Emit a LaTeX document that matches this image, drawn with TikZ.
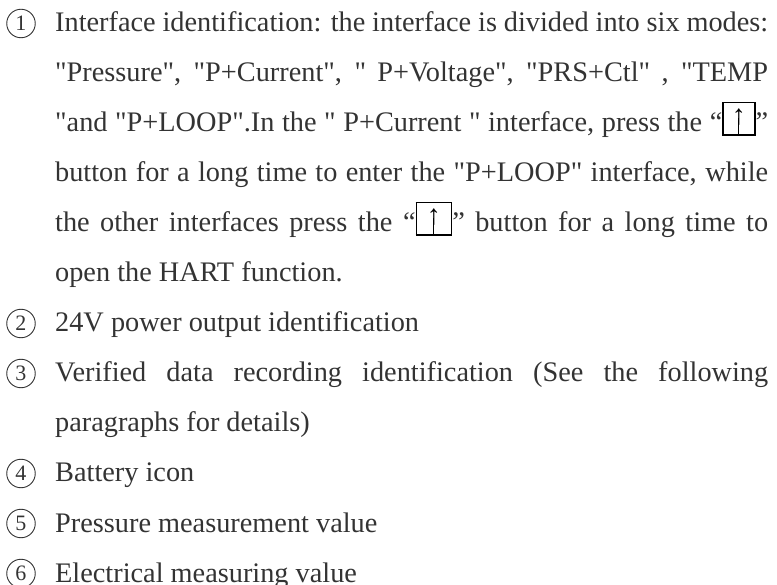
\documentclass[tikz,border=0pt]{standalone}
\usepackage{fontspec}
\setmainfont{Liberation Serif}[Ligatures=TeXOff]
\usetikzlibrary{positioning}
\definecolor{textgray}{HTML}{333333}
% boxed up key, #1 = inner width
\newcommand{\upkey}[1]{{\color{black}\setlength{\fboxsep}{0pt}\setlength{\fboxrule}{1.4pt}%
  \fbox{\makebox[#1]{\rule[-2.5pt]{0pt}{31pt}%
    \makebox[0pt]{\raisebox{7pt}{\fontsize{28}{28}\selectfont ↑}}%
    \makebox[0pt]{\rule[-2.5pt]{1pt}{16pt}}}}}}
\tolerance=10000
\hyphenpenalty=10000

\begin{document}
\begin{tikzpicture}[x=1pt, y=-1pt, every node/.style={text=textgray},
	item/.style={anchor=base west, inner sep=0pt, text width=713pt, align=justify, font=\fontsize{28.3}{50}\selectfont},
	numcirc/.style={draw=textgray, circle, line width=0.9pt, minimum size=28.5pt, inner sep=0pt, font=\fontsize{22}{22}\selectfont}]
	\useasboundingbox (0,0) rectangle (777,585);
	
	\node[item](I1) at (55,32){Interface identification: the interface is divided into six modes:\linebreak
		"Pressure", "P+Current", " P+Voltage", "PRS+Ctl" , "TEMP\linebreak
		"and "P+LOOP".In the " P+Current " interface, press the “\upkey{30.5pt}”\linebreak
		button for a long time to enter the "P+LOOP" interface, while\linebreak
		the other interfaces press the “\upkey{34pt}” button for a long time to\linebreak
		open the HART function.};
	\node[item](I2) at (55,332){24V power output identification};
	\node[item](I3) at (55,382){Verified data recording identification (See the following\linebreak
		paragraphs for details)};
	\node[item](I4) at (55,482){Battery icon};
	\node[item](I5) at (55,532){Pressure measurement value};
	\node[item](I6) at (55,582){Electrical measuring value};
	
	\node[numcirc](N1) at (21,23.5){1};
	\node[numcirc](N2) at (21,323.5){2};
	\node[numcirc](N3) at (21,373.5){3};
	\node[numcirc](N4) at (21,473.5){4};
	\node[numcirc](N5) at (21,523.5){5};
	\node[numcirc](N6) at (21,573.5){6};
	
\end{tikzpicture}
\end{document}
